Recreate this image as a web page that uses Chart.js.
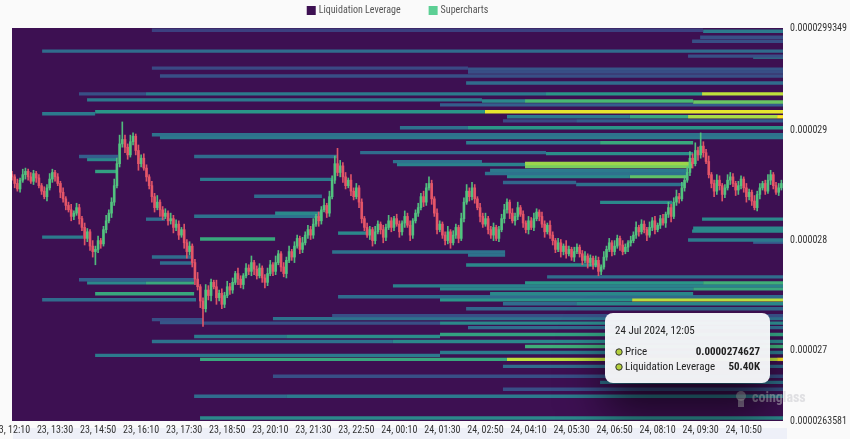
<!DOCTYPE html>
<html>
<head>
<meta charset="utf-8">
<script src="https://cdn.jsdelivr.net/npm/chart.js@4.4.1/dist/chart.umd.min.js"></script>
<style>
  html, body { margin: 0; padding: 0; background: #fafafa; }
</style>
</head>
<body>
<canvas id="canvasHeat" width="850" height="439"></canvas>
<script>
// 5 min candles from 23 Jul 12:10, prices in units of 1e-6
var closes = [
  28.58, 28.52, 28.47, 28.55, 28.60, 28.63, 28.58, 28.54, 28.61, 28.57, 28.50,
  28.45, 28.40, 28.48, 28.56, 28.62, 28.58, 28.52, 28.44, 28.38, 28.32,
  28.28, 28.22, 28.25, 28.30, 28.20, 28.12, 28.02, 28.08, 27.95, 27.90,
  27.92, 28.00, 27.97, 28.10, 28.18, 28.25, 28.35, 28.50, 28.70, 28.88,
  28.92, 28.85, 28.78, 28.90, 28.95, 28.82, 28.70, 28.75, 28.66, 28.58,
  28.50, 28.40, 28.30, 28.35, 28.28, 28.22, 28.25, 28.18, 28.20, 28.12,
  28.15, 28.05, 28.10, 27.98, 27.90, 27.95, 27.80, 27.65, 27.58, 27.45,
  27.38, 27.55, 27.50, 27.62, 27.58, 27.48, 27.52, 27.42, 27.50, 27.58,
  27.55, 27.62, 27.70, 27.65, 27.60, 27.68, 27.75, 27.72, 27.80, 27.74,
  27.68, 27.75, 27.66, 27.62, 27.70, 27.78, 27.72, 27.80, 27.88, 27.76,
  27.70, 27.82, 27.90, 27.85, 27.95, 28.02, 27.92, 27.98, 28.05, 28.10,
  28.05, 28.15, 28.22, 28.18, 28.28, 28.32, 28.25, 28.40, 28.55, 28.70,
  28.62, 28.68, 28.58, 28.50, 28.55, 28.45, 28.40, 28.48, 28.35, 28.20,
  28.12, 28.05, 28.10, 28.00, 28.08, 28.15, 28.10, 28.03, 28.12, 28.18,
  28.12, 28.20, 28.15, 28.08, 28.16, 28.22, 28.14, 28.05, 28.18, 28.25,
  28.30, 28.40, 28.35, 28.48, 28.52, 28.38, 28.25, 28.10, 28.15, 28.05,
  28.00, 28.08, 27.98, 28.05, 28.12, 28.02, 28.20, 28.35, 28.45, 28.40,
  28.48, 28.38, 28.30, 28.22, 28.15, 28.20, 28.10, 28.05, 28.12, 28.02,
  28.10, 28.20, 28.28, 28.35, 28.25, 28.18, 28.22, 28.30, 28.24, 28.16,
  28.10, 28.18, 28.12, 28.20, 28.26, 28.22, 28.15, 28.08, 28.14, 28.05,
  28.00, 27.92, 27.98, 27.90, 27.95, 27.88, 27.92, 27.85, 27.90, 27.94,
  27.88, 27.82, 27.86, 27.80, 27.84, 27.78, 27.82, 27.72, 27.76, 27.85,
  27.92, 27.98, 27.90, 27.95, 28.02, 27.96, 27.90, 27.94, 27.98, 28.00,
  28.05, 28.12, 28.08, 28.15, 28.10, 28.05, 28.12, 28.18, 28.10, 28.14,
  28.20, 28.16, 28.24, 28.30, 28.22, 28.35, 28.40, 28.38, 28.48, 28.55,
  28.62, 28.75, 28.70, 28.82, 28.78, 28.86, 28.80, 28.72, 28.60, 28.52,
  28.45, 28.55, 28.50, 28.42, 28.48, 28.55, 28.58, 28.52, 28.46, 28.50,
  28.56, 28.48, 28.40, 28.44, 28.36, 28.30, 28.42, 28.48, 28.52, 28.45, 28.55, 28.60, 28.50, 28.44, 28.48, 28.52
];
var firstOpen = 28.60;
// wick lengths above / below the body, in 0.01 units
var wickUp = [
  3,2,4,2,5,3,2,4,3,2,3, 2,4,3,5,3,2,3,2,4,2, 3,5,2,4,3,2,4,3,2,5, 3,4,2,3,5,3,4,6,5,8,
  16,4,3,6,3,2,5,3,4,3, 2,4,3,6,2,3,4,2,5,3, 4,3,2,5,3,4,2,3,6,2, 3,5,4,3,2,6,3,4,3,5,
  3,4,2,5,3,2,4,3,6,2, 3,4,2,3,5,4,2,6,3,2, 4,3,5,2,4,3,2,5,3,4, 3,5,2,4,3,6,2,5,4,7,
  14,5,3,4,2,5,3,4,2,3, 2,4,3,2,5,3,2,4,3,5, 3,2,4,3,2,5,3,4,2,3, 4,3,5,4,6,3,2,4,3,2,
  3,5,2,4,3,2,5,4,6,3, 5,3,2,4,3,5,2,3,4,2, 3,4,5,3,2,4,3,5,2,3, 2,4,3,5,3,2,4,3,2,4,
  3,2,4,3,2,5,3,2,4,3, 2,3,4,2,3,2,4,3,2,5, 3,4,2,5,3,2,4,3,2,4, 3,5,2,4,3,2,5,3,4,2,
  3,4,2,5,3,4,6,3,5,4, 5,6,4,7,3,12,4,3,5,2, 3,5,4,2,3,5,4,3,2,4, 3,2,4,3,2,5,3,4,2,3,5,4,2,3,4,3
];
var wickDn = [
  3,4,2,3,2,4,3,2,3,4,2, 3,2,4,2,3,4,2,5,3,4, 2,4,3,2,5,3,6,3,4,5, 12,3,4,2,3,2,4,3,2,3,
  3,5,4,2,3,4,6,3,2,4, 3,5,4,2,6,3,2,4,3,5, 3,4,2,5,6,3,4,5,3,6, 16,3,4,5,2,6,3,4,3,2,
  4,3,2,5,3,4,2,3,4,5, 3,2,4,5,3,2,4,3,2,4, 3,4,2,3,5,2,4,3,2,3, 4,3,2,5,3,2,4,3,2,3,
  3,4,5,3,2,4,3,2,5,4, 3,2,4,5,3,2,4,5,3,2, 4,3,2,5,3,4,2,5,3,2, 3,2,4,3,2,5,3,4,2,3,
  4,3,5,2,3,4,2,3,2,4, 3,4,2,5,3,2,4,3,5,2, 3,2,4,3,5,2,4,3,2,4, 3,4,2,3,2,4,3,5,2,3,
  4,3,2,5,3,4,2,3,4,2, 3,4,2,5,3,4,2,4,3,2, 3,2,4,3,2,5,3,2,4,3, 2,3,4,2,3,5,2,3,4,2,
  3,2,4,3,5,2,3,4,2,3, 2,3,4,2,5,3,4,2,3,4, 5,3,4,6,3,2,4,3,5,4, 3,4,5,3,4,2,3,4,2,3,2,4,3,2,3,2
];

var xTickIdx = [0, 16, 32, 48, 64, 80, 96, 112, 128, 144, 160, 176, 192, 208, 224, 240, 256, 272];
var xTickLabels = ['23, 12:10', '23, 13:30', '23, 14:50', '23, 16:10', '23, 17:30', '23, 18:50',
  '23, 20:10', '23, 21:30', '23, 22:50', '24, 00:10', '24, 01:30', '24, 02:50', '24, 04:10',
  '24, 05:30', '24, 06:50', '24, 08:10', '24, 09:30', '24, 10:50'];
var yTickValues = [26.3581, 27, 28, 29, 29.9349];
var yTickLabels = ['0.0000263581', '0.000027', '0.000028', '0.000029', '0.0000299349'];

// liquidation levels: price, first candle, last candle, intensity 0..1
var heatPrice = [29.914, 29.905, 29.851, 29.814, 29.724, 29.679, 29.670, 29.570, 29.561, 29.535,
  29.498, 29.434, 29.335, 29.335, 29.335, 29.335, 29.281, 29.271, 29.271, 29.262,
  29.235, 29.154, 29.172, 29.172, 29.127, 29.127, 29.127, 29.127, 29.090, 29.090,
  29.027, 29.027, 28.964, 28.937, 28.891, 28.891, 28.765, 28.738, 28.629, 28.765,
  28.801, 28.792, 28.719, 28.692, 28.701, 28.674, 28.638, 28.611, 28.584, 28.584,
  28.557, 28.529, 28.511, 28.403, 28.348, 28.249, 28.222, 28.195, 28.195, 28.113,
  28.086, 28.068, 28.032, 28.014, 28.005, 27.986, 27.896, 27.869, 27.851, 27.796,
  27.778, 27.670, 27.643, 27.615, 27.615, 27.615, 27.615, 27.588, 27.561, 27.561,
  27.516, 27.516, 27.489, 27.462, 27.462, 27.462, 27.425, 27.425, 27.380, 27.317,
  27.290, 27.281, 27.253, 27.249, 27.249, 27.208, 27.145, 27.127, 27.127, 27.081,
  27.081, 27.036, 26.982, 26.955, 26.919, 26.919, 26.919, 26.855, 26.765, 26.710,
  26.647, 26.584, 26.584, 26.385];
var heatFrom = [52.0, 256.9, 255.8, 252.8, 11.2, 251.3, 275.5, 52.0, 169.5, 169.5,
  55.0, 168.8, 24.9, 49.8, 198.5, 256.5, 27.9, 174.7, 190.7, 253.2,
  159.1, 11.2, 30.9, 175.8, 184.0, 229.7, 251.3, 284.4, 182.5, 209.7,
  144.2, 169.5, 52.0, 55.0, 168.8, 218.6, 24.9, 27.9, 30.9, 67.7,
  129.4, 198.5, 141.6, 143.1, 190.7, 190.7, 177.7, 175.8, 184.0, 229.7,
  69.9, 182.5, 209.7, 90.0, 218.6, 97.8, 67.7, 49.8, 256.5, 253.2,
  252.8, 121.2, 11.2, 69.9, 251.3, 275.5, 119.0, 169.5, 52.0, 55.0,
  168.8, 198.9, 24.9, 27.9, 49.8, 190.7, 256.9, 141.6, 159.1, 253.2,
  30.9, 177.7, 121.2, 159.1, 230.5, 11.2, 182.5, 209.7, 168.8, 119.0,
  97.0, 52.0, 55.0, 71.0, 159.1, 169.5, 159.1, 67.7, 101.9, 52.0,
  141.6, 190.7, 159.1, 30.9, 69.9, 184.0, 284.4, 182.5, 97.0, 218.6,
  182.5, 67.7, 101.9, 69.9];
var heatTo = [256.9, 287, 287, 287, 287, 287, 287, 169.5, 287, 287,
  287, 287, 49.8, 198.5, 256.5, 287, 174.7, 190.7, 253.2, 287,
  287, 30.9, 175.8, 287, 229.7, 251.3, 284.4, 287, 209.7, 287,
  169.5, 287, 287, 287, 218.6, 253.2, 39.4, 39.0, 39.0, 120.8,
  198.5, 253.2, 174.7, 190.7, 252.8, 252.8, 251.3, 251.3, 229.7, 251.3,
  119.0, 209.7, 250.2, 115.2, 245.4, 115.2, 115.2, 56.9, 287, 287,
  287, 132.3, 26.4, 97.8, 287, 287, 183.3, 183.3, 66.9, 66.9,
  218.6, 287, 67.7, 49.8, 67.7, 256.9, 287, 287, 253.2, 287,
  67.7, 253.2, 287, 230.5, 287, 68.4, 209.7, 287, 287, 287,
  287, 71.0, 71.0, 159.1, 287, 287, 287, 101.9, 159.1, 141.6,
  287, 287, 287, 159.1, 184.0, 284.4, 287, 287, 287, 287,
  287, 101.9, 287, 287];
var heatLevel = [0.25, 0.45, 0.3, 0.3, 0.4, 0.3, 0.45, 0.28, 0.32, 0.3,
  0.3, 0.4, 0.3, 0.45, 0.55, 0.85, 0.45, 0.5, 0.65, 0.72,
  0.35, 0.45, 0.55, 0.95, 0.45, 0.6, 0.82, 1.0, 0.28, 0.35,
  0.42, 0.55, 0.42, 0.45, 0.45, 0.6, 0.35, 0.5, 0.58, 0.4,
  0.4, 0.52, 0.42, 0.48, 0.8, 0.75, 0.45, 0.42, 0.5, 0.7,
  0.45, 0.38, 0.42, 0.4, 0.5, 0.5, 0.42, 0.4, 0.5, 0.5,
  0.5, 0.5, 0.45, 0.6, 0.45, 0.35, 0.42, 0.42, 0.4, 0.4,
  0.5, 0.4, 0.35, 0.5, 0.6, 0.55, 0.62, 0.48, 0.5, 0.6,
  0.6, 0.5, 0.4, 0.55, 0.85, 0.4, 0.4, 0.5, 0.38, 0.3,
  0.42, 0.3, 0.32, 0.3, 0.5, 0.4, 0.58, 0.45, 0.52, 0.42,
  0.5, 0.62, 0.45, 0.45, 0.6, 0.85, 1.0, 0.4, 0.3, 0.42,
  0.3, 0.4, 0.45, 0.5];

var legendLabels = ['Liquidation Leverage', 'Supercharts'];
var legendColors = ['#3d1052', '#5ccf94'];
var tipTitle = '24 Jul 2024, 12:05';
var tipNames = ['Price', 'Liquidation Leverage'];
var tipValues = ['0.0000274627', '50.40K'];

var BG = '#3d1052';
var UP = 'rgba(82, 196, 128, 0.95)';
var DOWN = 'rgba(230, 86, 104, 0.95)';
var FONT = "'Liberation Sans Narrow', 'Roboto Condensed', Roboto, sans-serif";

var stops = [
  [0.0, [61, 16, 82]], [0.25, [60, 64, 128]], [0.35, [52, 94, 140]], [0.45, [44, 122, 141]],
  [0.55, [42, 150, 136]], [0.65, [72, 184, 114]], [0.75, [120, 204, 92]], [0.85, [190, 224, 60]],
  [1.0, [250, 230, 40]]
];
function heatColor(v) {
  for (var i = 1; i < stops.length; i++) {
    if (v <= stops[i][0]) {
      var a = stops[i - 1], b = stops[i];
      var t = (v - a[0]) / (b[0] - a[0]);
      var c = a[1].map(function(x, k) { return Math.round(x + (b[1][k] - x) * t); });
      return 'rgb(' + c.join(',') + ')';
    }
  }
  return 'rgb(250,230,40)';
}

var opens = closes.map(function(c, i) { return i === 0 ? firstOpen : closes[i - 1]; });
var bodies = [], wicks = [];
for (var i = 0; i < closes.length; i++) {
  var lo = Math.min(opens[i], closes[i]), hi = Math.max(opens[i], closes[i]);
  bodies.push({ x: i, y: [opens[i], closes[i]] });
  wicks.push({ x: i, y: [lo - (wickDn[i] || 0) / 100, hi + (wickUp[i] || 0) / 100] });
}
function candleColor(ctx) {
  var k = ctx.dataIndex;
  return closes[k] >= opens[k] ? UP : DOWN;
}

var datasets = [];
datasets.push({
  label: 'Supercharts', data: bodies, backgroundColor: candleColor,
  barThickness: 2, grouped: false, minBarLength: 1, order: 0, clip: 0
});
datasets.push({
  label: 'wick', data: wicks, backgroundColor: candleColor,
  barThickness: 1, grouped: false, order: 1, clip: 0
});
for (var j = 0; j < heatPrice.length; j++) {
  datasets.push({
    type: 'line', label: 'Liquidation Leverage',
    data: [{ x: heatFrom[j], y: heatPrice[j] }, { x: heatTo[j], y: heatPrice[j] }],
    borderColor: heatColor(heatLevel[j]), borderWidth: 3.4, borderCapStyle: 'butt',
    pointRadius: 0, fill: false, order: 2, clip: 0
  });
}

var backPlugin = {
  id: 'back',
  beforeDraw: function(chart) {
    var c = chart.ctx, a = chart.chartArea;
    c.save();
    c.fillStyle = '#fafafa';
    c.fillRect(0, 0, chart.width, chart.height);
    c.fillStyle = '#eef0f8';
    c.fillRect(13, 428, 774, 11);
    c.fillStyle = BG;
    c.fillRect(a.left, a.top, a.right - a.left, a.bottom - a.top);
    c.restore();
  }
};

function roundRect(c, x, y, w, h, r) {
  c.beginPath();
  c.moveTo(x + r, y);
  c.arcTo(x + w, y, x + w, y + h, r);
  c.arcTo(x + w, y + h, x, y + h, r);
  c.arcTo(x, y + h, x, y, r);
  c.arcTo(x, y, x + w, y, r);
  c.closePath();
}

var frontPlugin = {
  id: 'front',
  afterDraw: function(chart) {
    var c = chart.ctx, a = chart.chartArea;
    c.save();
    // legend
    c.font = '10px ' + FONT;
    c.textBaseline = 'middle';
    var w0 = c.measureText(legendLabels[0]).width, w1 = c.measureText(legendLabels[1]).width;
    var total = 9 + 3 + w0 + 28 + 9 + 3 + w1;
    var lx = (a.left + a.right) / 2 - total / 2;
    c.fillStyle = legendColors[0];
    c.fillRect(lx, 6, 9, 9);
    c.fillStyle = '#555';
    c.fillText(legendLabels[0], lx + 12, 10.5);
    lx += 12 + w0 + 28;
    c.fillStyle = legendColors[1];
    c.fillRect(lx, 6, 9, 9);
    c.fillStyle = '#555';
    c.fillText(legendLabels[1], lx + 12, 10.5);

    // watermark
    c.fillStyle = 'rgba(200, 200, 205, 0.55)';
    c.beginPath();
    c.arc(741, 396, 5, 0, Math.PI * 2);
    c.fill();
    c.fillRect(738, 399, 6, 8);
    c.font = 'bold 14px ' + FONT;
    c.fillText('coinglass', 752, 398);

    // tooltip
    c.save();
    c.beginPath();
    c.rect(a.left, a.top, a.right - a.left, a.bottom - a.top);
    c.clip();
    c.shadowColor = 'rgba(0, 0, 0, 0.6)';
    c.shadowBlur = 45;
    c.shadowOffsetY = 30;
    roundRect(c, 605, 313, 165, 70, 8);
    c.fillStyle = 'rgba(246, 247, 249, 0.97)';
    c.fill();
    c.restore();
    c.fillStyle = '#222';
    c.font = '11px ' + FONT;
    c.textAlign = 'left';
    c.fillText(tipTitle, 615, 331);
    for (var k = 0; k < tipNames.length; k++) {
      var ty = 352 + k * 15;
      c.beginPath();
      c.arc(619, ty, 3.2, 0, Math.PI * 2);
      c.fillStyle = '#b4cf3c';
      c.fill();
      c.lineWidth = 1;
      c.strokeStyle = '#333';
      c.stroke();
      c.fillStyle = '#222';
      c.textAlign = 'left';
      c.font = '11px ' + FONT;
      c.fillText(tipNames[k], 625, ty);
      c.textAlign = 'right';
      c.font = 'bold 11px ' + FONT;
      c.fillText(tipValues[k], 760, ty);
    }
    c.restore();
  }
};

var ctx = document.getElementById('canvasHeat');
var heatChart = new Chart(ctx, {
  type: 'bar',
  data: { datasets: datasets },
  options: {
    responsive: false,
    animation: false,
    devicePixelRatio: 1,
    events: [],
    layout: { padding: { left: 12, top: 28, right: 0, bottom: 0 } },
    plugins: { legend: { display: false }, tooltip: { enabled: false } },
    scales: {
      x: {
        type: 'linear', min: 0, max: 286.6, offset: false,
        grid: { display: false, drawTicks: false }, border: { display: false },
        ticks: {
          autoSkip: false, maxRotation: 0, minRotation: 0, padding: 3, color: '#333',
          font: { size: 10, family: FONT },
          callback: function(v) { var k = xTickIdx.indexOf(v); return k < 0 ? '' : xTickLabels[k]; }
        },
        afterBuildTicks: function(s) { s.ticks = xTickIdx.map(function(v) { return { value: v }; }); },
        afterFit: function(s) { s.height = 18; s.paddingLeft = 0; s.paddingRight = 0; }
      },
      y: {
        type: 'linear', position: 'right', min: 26.3581, max: 29.9349,
        grid: { display: false, drawTicks: false }, border: { display: false },
        ticks: {
          padding: 7, color: '#333', font: { size: 10, family: FONT },
          callback: function(v) { var k = yTickValues.indexOf(v); return k < 0 ? '' : yTickLabels[k]; }
        },
        afterBuildTicks: function(s) { s.ticks = yTickValues.map(function(v) { return { value: v }; }); },
        afterFit: function(s) { s.width = 67; s.paddingTop = 0; s.paddingBottom = 0; }
      }
    }
  },
  plugins: [backPlugin, frontPlugin]
});
</script>
</body>
</html>
